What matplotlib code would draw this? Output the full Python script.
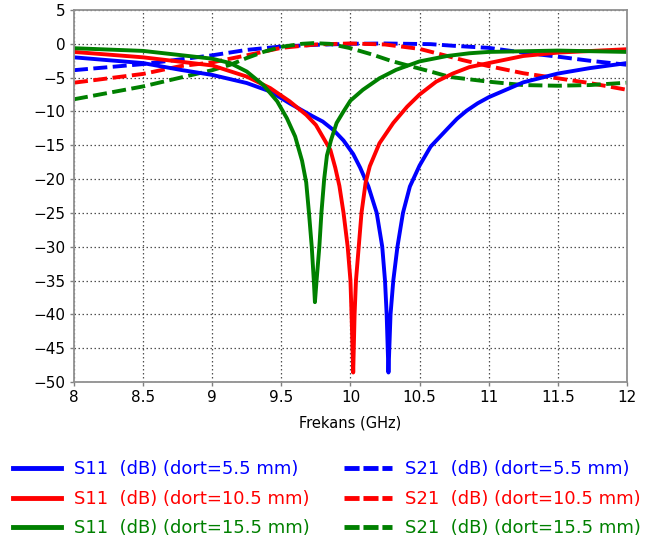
import matplotlib
matplotlib.use("Agg")
import matplotlib.pyplot as plt
from matplotlib.lines import Line2D

# S11 curves (frequency in GHz, magnitude in dB)
s11_55_f = [8.0, 8.5, 8.77, 9.0, 9.25, 9.42, 9.56, 9.73, 9.80, 9.88, 9.95, 10.02, 10.07, 10.13,
            10.19, 10.23, 10.25, 10.262, 10.275, 10.29, 10.31, 10.34, 10.38, 10.43, 10.5,
            10.58, 10.70, 10.77, 10.84, 10.92, 11.0, 11.25, 11.5, 11.73, 12.0]
s11_55_db = [-2.0, -2.85, -3.85, -4.6, -5.8, -7.05, -8.8, -10.75, -11.5, -12.8, -14.3, -16.3, -18.3, -21.1,
             -25, -30, -35, -40, -48.6, -40, -35, -30, -25, -21.1, -18.0,
             -15.2, -12.6, -11.1, -9.9, -8.8, -7.9, -5.7, -4.4, -3.6, -2.85]

s11_105_f = [8.0, 8.5, 9.0, 9.25, 9.42, 9.56, 9.68, 9.75, 9.855, 9.89, 9.92, 9.95, 9.98, 10.0,
             10.008, 10.02, 10.03, 10.04, 10.06, 10.08, 10.11, 10.14, 10.21, 10.31, 10.41,
             10.5, 10.62, 10.74, 10.86, 11.0, 11.25, 11.5, 12.0]
s11_105_db = [-1.2, -2.0, -3.2, -4.85, -6.55, -8.5, -10.5, -12.0, -15.7, -18.3, -21.0, -25, -30, -35,
              -40, -48.6, -40, -35, -30, -25, -20.5, -18.1, -14.7, -11.7, -9.3,
              -7.5, -5.6, -4.4, -3.45, -2.85, -1.8, -1.3, -0.8]

s11_155_f = [8.0, 8.5, 9.0, 9.13, 9.25, 9.37, 9.47, 9.54, 9.60, 9.65, 9.68, 9.70, 9.72, 9.735,
             9.743, 9.755, 9.775, 9.79, 9.81, 9.83, 9.86, 9.90, 9.95, 10.0, 10.09, 10.21,
             10.33, 10.5, 10.70, 10.86, 11.0, 11.5, 12.0]
s11_155_db = [-0.65, -1.05, -2.2, -2.85, -4.1, -6.1, -8.5, -11.0, -13.7, -17.3, -20.5, -25, -30, -35,
              -38.2, -35, -30, -25, -20, -16.5, -14.2, -11.7, -10.0, -8.4, -6.8, -5.1,
              -3.85, -2.6, -1.8, -1.4, -1.2, -1.0, -1.2]

# S21 curves
s21_55_f = [8.0, 8.5, 8.77, 9.0, 9.25, 9.5, 9.75, 10.0, 10.25, 10.58, 10.75, 11.0, 11.25,
            11.5, 11.73, 12.0]
s21_55_db = [-3.9, -3.0, -2.3, -1.7, -0.9, -0.4, -0.15, 0.0, 0.05, -0.05, -0.3, -0.6, -1.3,
             -1.9, -2.5, -3.1]

s21_105_f = [8.0, 8.5, 8.77, 9.0, 9.25, 9.5, 9.75, 10.0, 10.25, 10.5, 10.7, 10.81, 11.0,
             11.25, 11.5, 11.73, 12.0]
s21_105_db = [-5.75, -4.45, -3.3, -2.75, -1.7, -0.6, -0.1, 0.05, -0.1, -0.75, -1.8, -2.4, -3.3,
              -4.35, -5.1, -5.8, -6.8]

s21_155_f = [8.0, 8.5, 8.77, 9.0, 9.13, 9.25, 9.37, 9.5, 9.65, 9.73, 9.85, 10.0, 10.16, 10.29,
             10.45, 10.58, 10.72, 11.0, 11.25, 11.5, 11.73, 12.0]
s21_155_db = [-8.2, -6.3, -5.0, -3.9, -3.1, -2.1, -1.2, -0.45, 0.0, 0.1, 0.0, -0.65, -1.6, -2.5,
              -3.4, -4.1, -4.9, -5.6, -6.1, -6.2, -6.1, -5.75]

labels_s11 = ["S11  (dB) (dort=5.5 mm)", "S11  (dB) (dort=10.5 mm)", "S11  (dB) (dort=15.5 mm)"]
labels_s21 = ["S21  (dB) (dort=5.5 mm)", "S21  (dB) (dort=10.5 mm)", "S21  (dB) (dort=15.5 mm)"]
colors = ["#0000ff", "#ff0000", "#008000"]

x_ticks = [8, 8.5, 9, 9.5, 10, 10.5, 11, 11.5, 12]
x_tick_labels = ["8", "8.5", "9", "9.5", "10", "10.5", "11", "11.5", "12"]
y_ticks = [5, 0, -5, -10, -15, -20, -25, -30, -35, -40, -45, -50]

plt.rcParams["font.family"] = ["DejaVu Sans"]

fig = plt.figure(figsize=(6.57, 5.52), dpi=100)
ax = fig.add_axes([0.1126, 0.308, 0.8416, 0.6739])

lw = 2.8
dash = (0, (3.6, 1.4))

s11_sets = [(s11_55_f, s11_55_db), (s11_105_f, s11_105_db), (s11_155_f, s11_155_db)]
s21_sets = [(s21_55_f, s21_55_db), (s21_105_f, s21_105_db), (s21_155_f, s21_155_db)]

for (f, d), c in zip(s21_sets, colors):
    ax.plot(f, d, color=c, lw=lw, linestyle=dash, dash_capstyle="butt", dash_joinstyle="round")
for (f, d), c in zip(s11_sets, colors):
    ax.plot(f, d, color=c, lw=lw, solid_joinstyle="round")

ax.set_xlim(8, 12)
ax.set_ylim(-50, 5)
ax.set_xticks(x_ticks)
ax.set_xticklabels(x_tick_labels)
ax.set_yticks(y_ticks)
ax.tick_params(labelsize=11, length=3, width=1, color="#808080", pad=3)
ax.grid(True, color="#505050", linestyle=(0, (1.2, 2.0)), linewidth=0.9)
for side in ["left", "bottom", "top", "right"]:
    ax.spines[side].set_color("#909090")
    ax.spines[side].set_linewidth(1.3)
ax.set_xlabel("Frekans (GHz)", fontsize=10.5, labelpad=7)

handles = [Line2D([], [], color=c, lw=3.5) for c in colors] + \
          [Line2D([], [], color=c, lw=3.5, linestyle=(0, (3.1, 0.8))) for c in colors]
leg = fig.legend(handles, labels_s11 + labels_s21, ncol=2, frameon=False,
                 loc="upper left", bbox_to_anchor=(0.0198, 0.166),
                 borderaxespad=0.0, borderpad=0.0, fontsize=13,
                 handlelength=2.66, handletextpad=0.72, columnspacing=1.9,
                 labelspacing=0.64, labelcolor="linecolor")

fig.savefig("out.png", dpi=100)
